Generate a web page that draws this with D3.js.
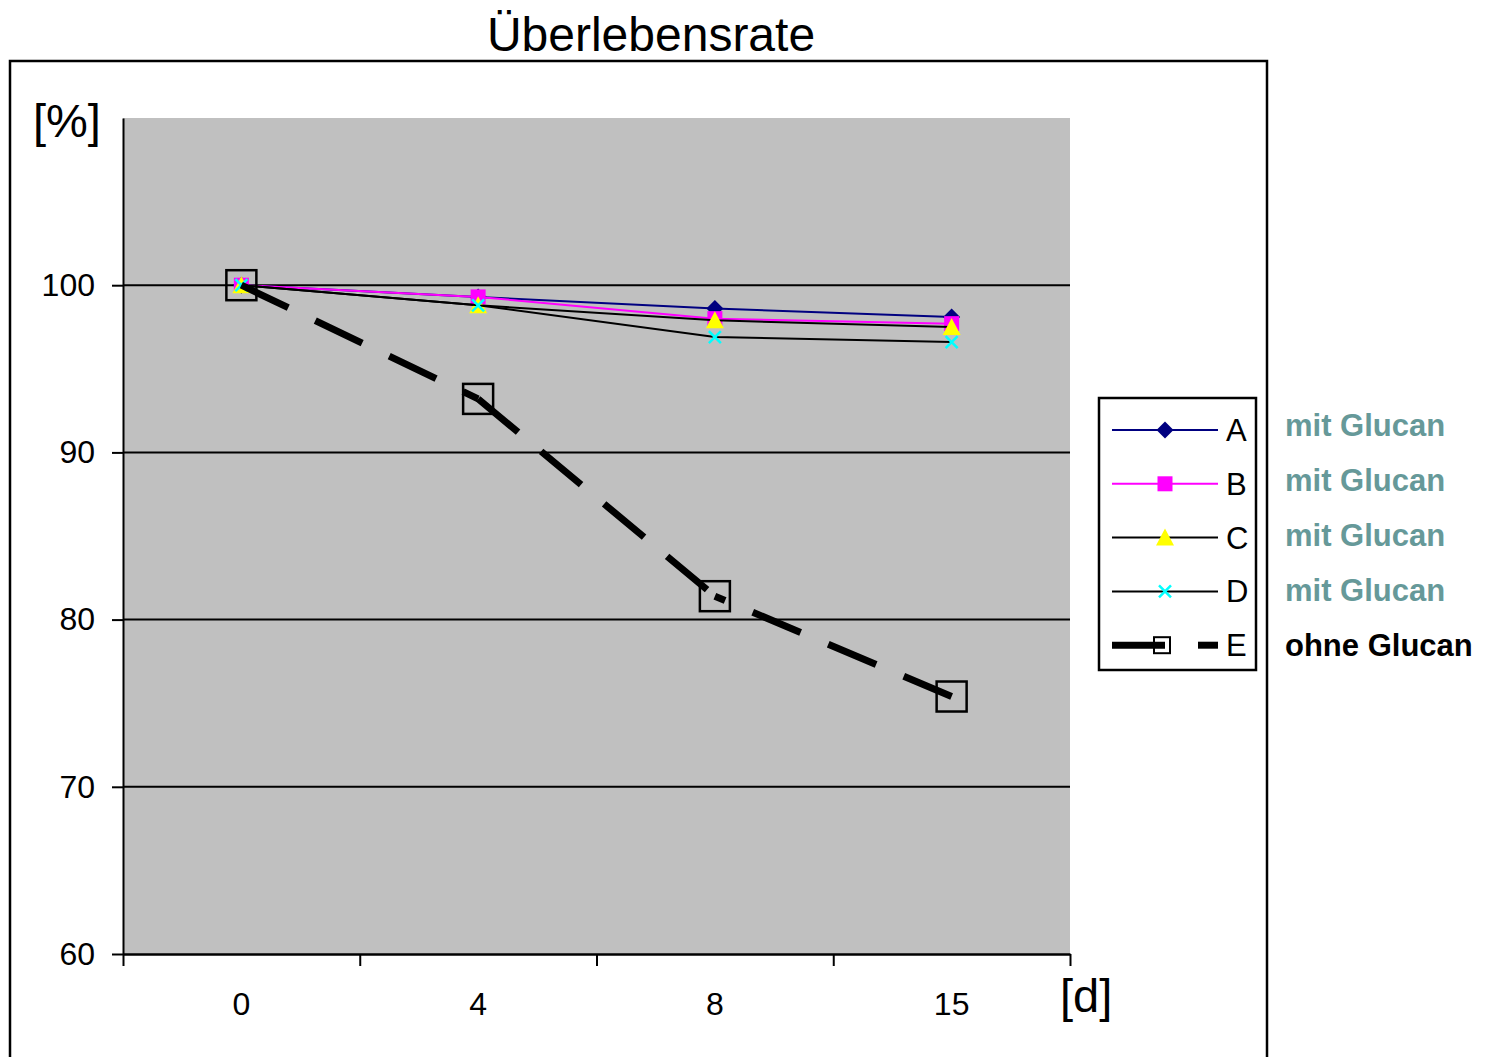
<!DOCTYPE html>
<html>
<head>
<meta charset="utf-8">
<script src="https://cdn.jsdelivr.net/npm/d3@7"></script>
<style>
  body { margin: 0; background: #fff; }
  text { font-family: "Liberation Sans", Arial, sans-serif; }
</style>
</head>
<body>
<svg id="chart" width="1494" height="1057"></svg>
<script>
// data
const days = ['0', '4', '8', '15'];
const seriesNames = ['A', 'B', 'C', 'D', 'E'];
const groupLabels = ['mit Glucan', 'mit Glucan', 'mit Glucan', 'mit Glucan', 'ohne Glucan'];
const valuesA = [100, 99.3, 98.6, 98.1];
const valuesB = [100, 99.3, 98.0, 97.7];
const valuesC = [100, 98.8, 97.9, 97.5];
const valuesD = [100, 98.8, 96.9, 96.6];
const valuesE = [100, 93.2, 81.4, 75.4];
const yTicks = [60, 70, 80, 90, 100];

const series = [
  { name: 'A', values: valuesA, line: '#000080', width: 2, marker: 'diamond', fill: '#000080' },
  { name: 'B', values: valuesB, line: '#ff00ff', width: 2, marker: 'square', fill: '#ff00ff' },
  { name: 'C', values: valuesC, line: '#000000', width: 2, marker: 'triangle', fill: '#ffff00' },
  { name: 'D', values: valuesD, line: '#000000', width: 2, marker: 'x', fill: '#00ffff' },
  { name: 'E', values: valuesE, line: '#000000', width: 7, marker: 'open', fill: 'none', dash: '52,30' }
];

const svg = d3.select('#chart');
const plot = { left: 123, right: 1070, top: 118, bottom: 954 };

// outer frame
svg.append('rect')
  .attr('x', 10).attr('y', 61)
  .attr('width', 1257).attr('height', 1010)
  .attr('fill', 'none').attr('stroke', '#000').attr('stroke-width', 2.5);

svg.append('text')
  .attr('x', 651).attr('y', 51)
  .attr('text-anchor', 'middle')
  .style('font-size', '48px')
  .text('Überlebensrate');

const x = d3.scaleBand().domain(days).range([plot.left, plot.right]);
const xEdge = d3.scaleLinear().domain([0, days.length]).range([plot.left, plot.right]);
const y = d3.scaleLinear().domain([60, 110]).range([plot.bottom, plot.top]);
const cx = d => x(d) + x.bandwidth() / 2;

svg.append('rect')
  .attr('x', plot.left).attr('y', plot.top)
  .attr('width', plot.right - plot.left).attr('height', plot.bottom - plot.top)
  .attr('fill', '#c0c0c0');

// gridlines
svg.append('g')
  .selectAll('line')
  .data(yTicks.slice(1))
  .join('line')
  .attr('x1', plot.left).attr('x2', plot.right)
  .attr('y1', d => y(d)).attr('y2', d => y(d))
  .attr('stroke', '#000').attr('stroke-width', 2);

// y axis
const yAxis = svg.append('g')
  .attr('transform', `translate(${plot.left},0)`)
  .call(d3.axisLeft(y).tickValues(yTicks).tickSize(11).tickPadding(17).tickSizeOuter(0));
yAxis.select('.domain').attr('stroke-width', 2);
yAxis.selectAll('.tick line').attr('stroke-width', 2);
yAxis.selectAll('text').style('font-size', '32px').attr('fill', '#000')
  .style('font-family', '"Liberation Sans", Arial, sans-serif');

// x axis: tick marks at band edges, labels at band centres
const xAxis = svg.append('g')
  .attr('transform', `translate(0,${plot.bottom})`)
  .call(d3.axisBottom(xEdge).tickValues(d3.range(days.length + 1)).tickFormat('').tickSize(12).tickSizeOuter(0));
xAxis.select('.domain').attr('stroke-width', 2.5);
xAxis.selectAll('.tick line').attr('stroke-width', 2);

svg.append('g')
  .selectAll('text')
  .data(days)
  .join('text')
  .attr('x', d => cx(d))
  .attr('y', plot.bottom + 61)
  .attr('text-anchor', 'middle')
  .style('font-size', '32px')
  .text(d => d);

svg.append('text').attr('x', 33).attr('y', 137).style('font-size', '47px').text('[%]');
svg.append('text').attr('x', 1060).attr('y', 1012).style('font-size', '47px').text('[d]');

function drawMarker(g, type, fill, px, py) {
  if (type === 'diamond') {
    g.append('path').attr('d', `M${px},${py - 8.5}L${px + 8.5},${py}L${px},${py + 8.5}L${px - 8.5},${py}Z`)
      .attr('fill', fill);
  } else if (type === 'square') {
    g.append('rect').attr('x', px - 7.5).attr('y', py - 7.5).attr('width', 15).attr('height', 15)
      .attr('fill', fill);
  } else if (type === 'triangle') {
    g.append('path').attr('d', `M${px},${py - 9}L${px + 9},${py + 8}L${px - 9},${py + 8}Z`)
      .attr('fill', fill);
  } else if (type === 'x') {
    g.append('path').attr('d', `M${px - 6},${py - 6}L${px + 6},${py + 6}M${px + 6},${py - 6}L${px - 6},${py + 6}`)
      .attr('stroke', fill).attr('stroke-width', 2.5);
  } else if (type === 'open') {
    g.append('rect').attr('x', px - 15).attr('y', py - 15).attr('width', 30).attr('height', 30)
      .attr('fill', 'none').attr('stroke', '#000').attr('stroke-width', 2.5);
  }
}

const line = d3.line()
  .x(d => cx(d.day))
  .y(d => y(d.v));

series.forEach(s => {
  const g = svg.append('g');
  const pts = s.values.map((v, i) => ({ day: days[i], v: v }));
  if (s.dash) {
    // dash pattern starts over for each segment; the last one runs into its end point
    const segs = d3.pairs(pts);
    segs.forEach((p, i) => {
      const seg = i === segs.length - 1 ? [p[1], p[0]] : p;
      g.append('path').datum(seg).attr('d', line)
        .attr('fill', 'none').attr('stroke', s.line)
        .attr('stroke-width', s.width).attr('stroke-dasharray', s.dash);
    });
  } else {
    g.append('path').datum(pts).attr('d', line)
      .attr('fill', 'none').attr('stroke', s.line).attr('stroke-width', s.width);
  }
  pts.forEach(p => drawMarker(g, s.marker, s.fill, cx(p.day), y(p.v)));
});

// legend
const legend = svg.append('g');
legend.append('rect')
  .attr('x', 1099).attr('y', 398).attr('width', 157).attr('height', 272)
  .attr('fill', '#fff').attr('stroke', '#000').attr('stroke-width', 2.5);

series.forEach((s, i) => {
  const ly = 430 + i * 53.8;
  if (s.dash) {
    legend.append('line').attr('x1', 1112).attr('x2', 1165).attr('y1', ly).attr('y2', ly)
      .attr('stroke', '#000').attr('stroke-width', s.width);
    legend.append('line').attr('x1', 1198).attr('x2', 1218).attr('y1', ly).attr('y2', ly)
      .attr('stroke', '#000').attr('stroke-width', s.width);
    legend.append('rect').attr('x', 1154).attr('y', ly - 8).attr('width', 16).attr('height', 16)
      .attr('fill', 'none').attr('stroke', '#000').attr('stroke-width', 2);
  } else {
    legend.append('line').attr('x1', 1112).attr('x2', 1218).attr('y1', ly).attr('y2', ly)
      .attr('stroke', s.line).attr('stroke-width', 2);
    drawMarker(legend, s.marker, s.fill, 1165, ly);
  }
  legend.append('text')
    .attr('x', 1226).attr('y', ly + 11)
    .style('font-size', '31px')
    .text(seriesNames[i]);
  svg.append('text')
    .attr('x', 1285).attr('y', 436 + i * 55)
    .style('font-size', '31px')
    .style('font-weight', 'bold')
    .attr('fill', i < 4 ? '#669999' : '#000')
    .text(groupLabels[i]);
});
</script>
</body>
</html>
